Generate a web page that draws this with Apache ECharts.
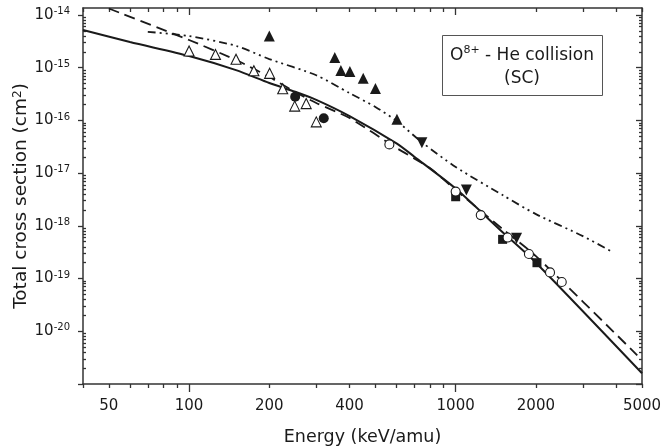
<!DOCTYPE html>
<html>
<head>
<meta charset="utf-8">
<script src="https://cdn.jsdelivr.net/npm/echarts@6/dist/echarts.min.js"></script>
<style>
html,body{margin:0;padding:0;background:#fff;}
#chart{width:661px;height:448px;}
</style>
</head>
<body>
<div id="chart"></div>
<script>
// ---- Data (energy in keV/amu, cross section in cm^2) ----
const openTriE = [100, 125.6, 150, 175, 200.5, 224.5, 249, 275, 300];
const openTriS = [2.08e-15, 1.79e-15, 1.45e-15, 8.77e-16, 7.83e-16, 4.0e-16, 1.87e-16, 2.09e-16, 9.4e-17];
const fillCircE = [250, 320];
const fillCircS = [2.82e-16, 1.1e-16];
const fillTriE = [200, 352, 371, 401, 450, 500, 602];
const fillTriS = [4.0e-15, 1.57e-15, 8.85e-16, 8.47e-16, 6.3e-16, 4.03e-16, 1.05e-16];
const downTriE = [747, 1097, 1692];
const downTriS = [3.78e-17, 4.78e-18, 5.8e-19];
const squareE = [1000, 1500, 2018];
const squareS = [3.57e-18, 5.55e-19, 2.0e-19];
const openCircE = [564, 1000, 1242, 1566, 1883, 2259, 2500];
const openCircS = [3.51e-17, 4.47e-18, 1.6e-18, 6.0e-19, 2.92e-19, 1.31e-19, 8.6e-20];

const solidE = [40, 60, 100, 150, 200, 250, 300, 400, 600, 700, 1000, 1500, 2000, 5000];
const solidS = [5.2e-15, 3.07e-15, 1.67e-15, 9.0e-16, 5.13e-16, 3.5e-16, 2.46e-16, 1.21e-16, 3.67e-17, 2.05e-17, 5.1e-18, 7.6e-19, 2.0e-19, 1.6e-21];
const dashE = [50, 100, 150, 200, 250, 300, 400, 600, 800, 1000, 1500, 2000, 4800];
const dashS = [1.33e-14, 3.36e-15, 1.40e-15, 6.67e-16, 3.46e-16, 2.14e-16, 1.11e-16, 3.0e-17, 1.25e-17, 4.8e-18, 8.7e-19, 2.67e-19, 3.5e-21];
const dotE = [70, 100, 150, 200, 300, 400, 500, 600, 750, 1000, 1500, 2000, 3000, 3800];
const dotS = [4.8e-15, 4.0e-15, 2.6e-15, 1.46e-15, 7.2e-16, 3.3e-16, 1.8e-16, 9.8e-17, 3.8e-17, 1.31e-17, 3.84e-18, 1.67e-18, 6.4e-19, 3.37e-19];

// ---- Axis ticks / labels ----
const xLabelVals = [50, 100, 200, 400, 1000, 2000, 5000];
const xMajorTicks = [100, 1000];
const xMinorTicks = [40, 50, 60, 70, 80, 90, 200, 300, 400, 500, 600, 700, 800, 900, 2000, 3000, 4000, 5000];
const yLabelExps = [-20, -19, -18, -17, -16, -15, -14];
const yMajorExps = [-21, -20, -19, -18, -17, -16, -15, -14];
const xRange = [40, 5000];
const yRange = [1e-21, 1.36e-14];

const L = Math.log10;
const FONT = "'DejaVu Sans', sans-serif";
const INK = '#1a1a1a';
const AX = '#333';
const pts = (E, S) => E.map((e, i) => [L(e), L(S[i])]);

const yMinor = [];
for (let n = -21; n <= -14; n++) {
  for (let k = 2; k <= 9; k++) {
    const v = L(k) + n;
    if (v < L(yRange[1])) yMinor.push(v);
  }
}

const xMin = L(xRange[0]), xMax = L(xRange[1]);
const yMin = L(yRange[0]), yMax = L(yRange[1]);

function xAxisDef(pos, tickVals, len, inside, showLine, labels) {
  return {
    type: 'value', position: pos, min: xMin, max: xMax,
    splitLine: {show: false},
    axisLine: {show: showLine, onZero: false, lineStyle: {color: AX, width: 1.5}},
    axisTick: {show: true, inside: inside, length: len, customValues: tickVals.map(L), lineStyle: {color: AX, width: 1.3}},
    axisLabel: labels ? {
      show: true, customValues: xLabelVals.map(L), margin: 15,
      fontFamily: FONT, fontSize: 15, color: INK,
      formatter: v => String(Math.round(Math.pow(10, v)))
    } : {show: false}
  };
}
function yAxisDef(pos, tickVals, len, inside, showLine, labels) {
  return {
    type: 'value', position: pos, min: yMin, max: yMax,
    splitLine: {show: false},
    axisLine: {show: showLine, onZero: false, lineStyle: {color: AX, width: 1.5}},
    axisTick: {show: true, inside: inside, length: len, customValues: tickVals, lineStyle: {color: AX, width: 1.3}},
    axisLabel: labels ? {
      show: true, customValues: yLabelExps, margin: 13,
      formatter: v => '{a|10}{s|' + Math.round(v) + '}',
      rich: {
        a: {fontFamily: FONT, fontSize: 15, color: INK, lineHeight: 17},
        s: {fontFamily: FONT, fontSize: 10, color: INK, lineHeight: 17, verticalAlign: 'top'}
      }
    } : {show: false}
  };
}

const xAxes = [
  xAxisDef('bottom', xMajorTicks, 8, false, true, true),
  xAxisDef('bottom', xMinorTicks, 4, false, false, false),
  xAxisDef('top', xMajorTicks, 7, true, true, false),
  xAxisDef('top', xMinorTicks, 4, true, false, false)
];
xAxes[0].name = 'Energy (keV/amu)';
xAxes[0].nameLocation = 'middle';
xAxes[0].nameGap = 44;
xAxes[0].nameMoveOverlap = false;
xAxes[0].nameTextStyle = {fontFamily: FONT, fontSize: 17.5, color: INK};

const yAxes = [
  yAxisDef('left', yMajorExps, 5, false, true, true),
  yAxisDef('left', yMinor, 3, true, false, false),
  yAxisDef('right', yMajorExps, 6, true, true, false),
  yAxisDef('right', yMinor, 3, true, false, false)
];
yAxes[0].name = 'Total cross section (cm{s|2})';
yAxes[0].nameLocation = 'middle';
yAxes[0].nameGap = 52;
yAxes[0].nameMoveOverlap = false;
yAxes[0].nameTextStyle = {
  fontFamily: FONT, fontSize: 18.5, color: INK,
  rich: {s: {fontFamily: FONT, fontSize: 12, color: INK, verticalAlign: 'top'}}
};

function lineSeries(E, S, dash, w) {
  return {
    type: 'line', data: pts(E, S), symbol: 'none', smooth: 0.25,
    lineStyle: {color: INK, width: w, type: dash}, z: 2, silent: true
  };
}
function scatterSeries(E, S, symbol, size, filled, rotate) {
  return {
    type: 'scatter', data: pts(E, S), symbol: symbol, symbolSize: size, symbolRotate: rotate || 0,
    itemStyle: {color: filled ? INK : '#fff', borderColor: INK, borderWidth: filled ? 0 : 1.1, opacity: 1},
    z: 3, silent: true
  };
}

const option = {
  animation: false,
  backgroundColor: '#fff',
  grid: {left: 83, right: 19, top: 8, bottom: 64, containLabel: false, outerBoundsMode: 'none'},
  xAxis: xAxes,
  yAxis: yAxes,
  series: [
    lineSeries(solidE, solidS, 'solid', 2),
    lineSeries(dashE, dashS, [11, 6], 1.8),
    lineSeries(dotE, dotS, [8, 4, 2, 4, 2, 4], 1.8),
    scatterSeries(openTriE, openTriS, 'triangle', 10, false),
    scatterSeries(fillCircE, fillCircS, 'circle', 10, true),
    scatterSeries(fillTriE, fillTriS, 'triangle', 11, true),
    scatterSeries(downTriE, downTriS, 'triangle', 11, true, 180),
    scatterSeries(squareE, squareS, 'rect', 9, true),
    scatterSeries(openCircE, openCircS, 'circle', 9, false)
  ],
  graphic: [
    {type: 'rect', left: 442, top: 35, z: 10,
     shape: {width: 160, height: 60},
     style: {fill: '#fff', stroke: '#555', lineWidth: 1}},
    {type: 'text', x: 522, y: 56, z: 11,
     style: {text: '{a|O}{s|8+}{a| - He collision}', align: 'center', verticalAlign: 'middle',
       rich: {
         a: {fontFamily: FONT, fontSize: 17, fill: INK, lineHeight: 22},
         s: {fontFamily: FONT, fontSize: 11, fill: INK, lineHeight: 22, verticalAlign: 'top'}
       }}},
    {type: 'text', x: 522, y: 79, z: 11,
     style: {text: '(SC)', align: 'center', verticalAlign: 'middle', fontFamily: FONT, fontSize: 17, fill: INK}}
  ]
};

const chart = echarts.init(document.getElementById('chart'), null, {renderer: 'canvas'});
chart.setOption(option);
</script>
</body>
</html>
